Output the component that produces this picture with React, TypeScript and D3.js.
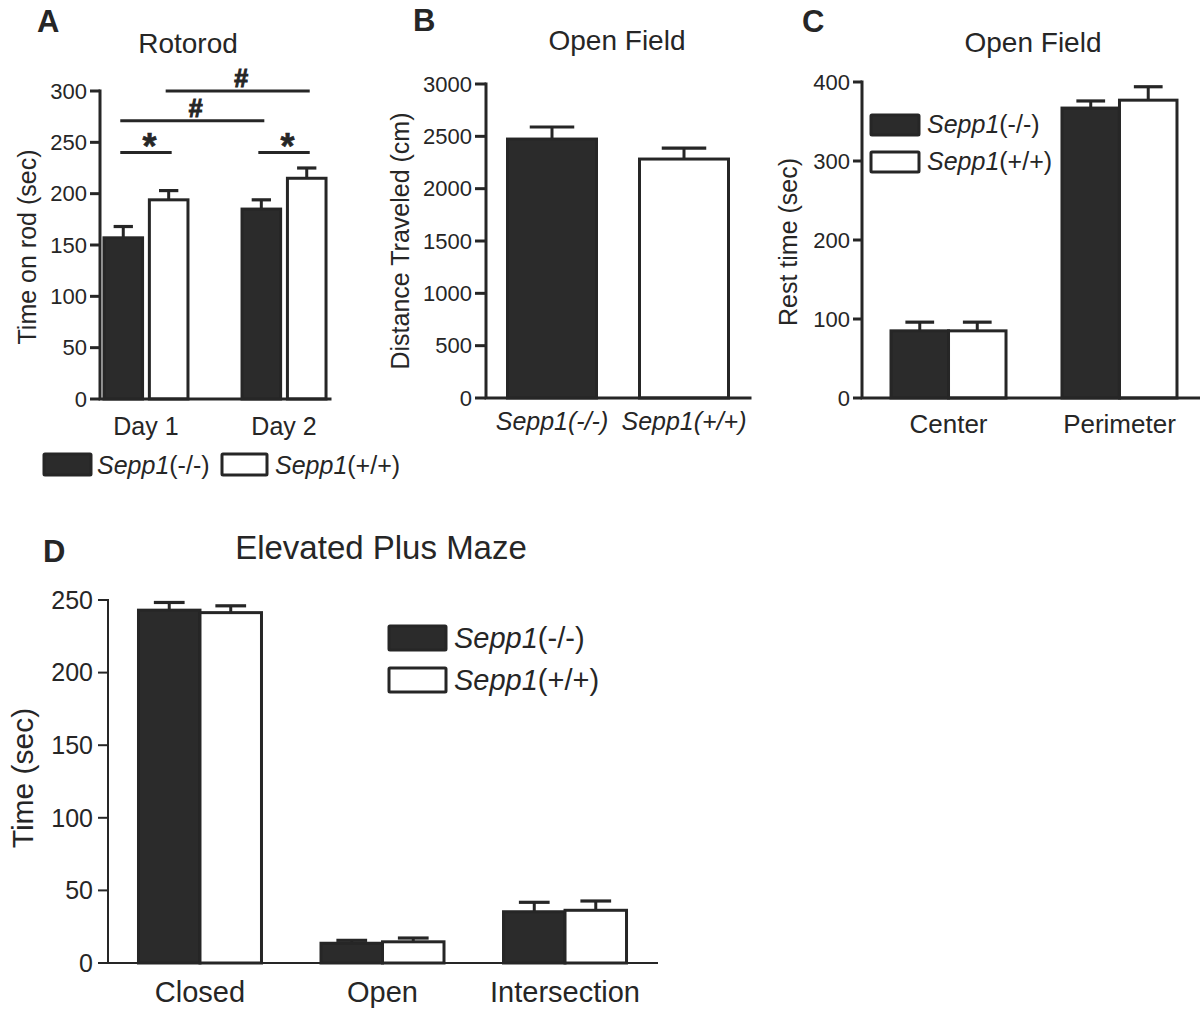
import * as d3 from 'd3'

const FONT = '"Liberation Sans", Arial, Helvetica, sans-serif'
const INK = '#262626'
const DARK = '#2b2b2b'
const WHITE = '#ffffff'

// legend / series names
const genoName = 'Sepp1'
const genoSuffix = ['(-/-)', '(+/+)']

// A: rotorod
const rotorodDays = ['Day 1', 'Day 2']
const rotorodKoMean = [157, 185]
const rotorodKoSem = [11, 9]
const rotorodWtMean = [194, 215]
const rotorodWtSem = [9, 10]
const rotorodTicks = [0, 50, 100, 150, 200, 250, 300]
// significance brackets: [day, series] -> [day, series] at value
const rotorodMarks = [
  { from: [0, 0], to: [0, 1], at: 240, label: '*' },
  { from: [0, 0], to: [1, 0], at: 271, label: '#' },
  { from: [0, 1], to: [1, 1], at: 300, label: '#' },
  { from: [1, 0], to: [1, 1], at: 240, label: '*' },
]

// B: open field distance
const distanceGroups = ['Sepp1(-/-)', 'Sepp1(+/+)']
const distanceMean = [2474, 2283]
const distanceSem = [115, 105]
const distanceTicks = [0, 500, 1000, 1500, 2000, 2500, 3000]

// C: open field rest time
const restZones = ['Center', 'Perimeter']
const restKoMean = [85, 367]
const restKoSem = [11, 9]
const restWtMean = [85, 377]
const restWtSem = [11, 17]
const restTicks = [0, 100, 200, 300, 400]

// D: elevated plus maze
const mazeArms = ['Closed', 'Open', 'Intersection']
const mazeKoMean = [243, 13.6, 35.3]
const mazeKoSem = [5.3, 2, 6.5]
const mazeWtMean = [241.3, 14.6, 36.3]
const mazeWtSem = [4.7, 2.6, 6.4]
const mazeTicks = [0, 50, 100, 150, 200, 250]

type Series = { mean: number[]; sem: number[]; fill: (gi: number) => string }

type PanelProps = {
  groups: string[]
  series: Series[]
  x0: number
  x1: number
  pad: number
  groupWidth: number
  innerPad: number
  yMax: number
  yTop: number
  yBottom: number
  ticks: number[]
  tickLen: number
  tickFont: number
  tickGap: number
  axisWidth: number
  labelFont: number
  labelDrop: number
  italicLabels?: boolean
  clipRight?: number
  children?: (x: d3.ScalePoint<string>, inner: d3.ScaleBand<number>, y: d3.ScaleLinear<number, number>) => any
}

const BarPanel = (p: PanelProps) => {
  const x = d3.scalePoint<string>().domain(p.groups).range([p.x0, p.x1]).padding(p.pad)
  const inner = d3
    .scaleBand<number>()
    .domain(d3.range(p.series.length))
    .range([-p.groupWidth / 2, p.groupWidth / 2])
    .paddingInner(p.innerPad)
  const y = d3.scaleLinear().domain([0, p.yMax]).range([p.yBottom, p.yTop])
  const bw = inner.bandwidth()
  const right = p.clipRight ?? p.x1

  return (
    <g>
      {p.series.map((s, si) =>
        p.groups.map((g, gi) => {
          const left = (x(g) as number) + (inner(si) as number)
          const cx = left + bw / 2
          const top = y(s.mean[gi])
          const err = y(s.mean[gi] + s.sem[gi])
          return (
            <g key={`${si}-${gi}`}>
              <line x1={cx} x2={cx} y1={top} y2={err} stroke={INK} strokeWidth={3} />
              <line x1={cx - bw / 4} x2={cx + bw / 4} y1={err} y2={err} stroke={INK} strokeWidth={3.2} />
              <rect
                x={left}
                y={top}
                width={bw}
                height={y(0) - top}
                fill={s.fill(gi)}
                stroke={INK}
                strokeWidth={3}
              />
            </g>
          )
        })
      )}
      {/* axes */}
      <path
        d={`M${p.x0},${y(p.yMax)}V${y(0)}H${right}`}
        fill="none"
        stroke={INK}
        strokeWidth={p.axisWidth}
        strokeLinecap="square"
      />
      {p.ticks.map((t) => (
        <g key={t}>
          <line x1={p.x0 - p.tickLen} x2={p.x0} y1={y(t)} y2={y(t)} stroke={INK} strokeWidth={p.axisWidth} />
          <text
            x={p.x0 - p.tickLen - p.tickGap}
            y={y(t)}
            dy="0.35em"
            textAnchor="end"
            fontSize={p.tickFont}
            fill={INK}
          >
            {t}
          </text>
        </g>
      ))}
      {p.groups.map((g) => (
        <text
          key={g}
          x={x(g)}
          y={y(0) + p.labelDrop}
          textAnchor="middle"
          fontSize={p.labelFont}
          fontStyle={p.italicLabels ? 'italic' : 'normal'}
          fill={INK}
        >
          {g}
        </text>
      ))}
      {p.children && p.children(x, inner, y)}
    </g>
  )
}

const Title = ({ x, y, size, text }: { x: number; y: number; size: number; text: string }) => (
  <text x={x} y={y} textAnchor="middle" fontSize={size} fill={INK}>
    {text}
  </text>
)

const Letter = ({ x, y, text }: { x: number; y: number; text: string }) => (
  <text x={x} y={y} fontSize={31} fontWeight="bold" fill={INK}>
    {text}
  </text>
)

const YTitle = ({ x, y, size, text }: { x: number; y: number; size: number; text: string }) => (
  <text transform={`translate(${x},${y}) rotate(-90)`} textAnchor="middle" fontSize={size} fill={INK}>
    {text}
  </text>
)

const LegendItem = ({ x, y, w, h, tx, ty, size, fill, suffix }: any) => (
  <g>
    <rect x={x} y={y} width={w} height={h} fill={fill} stroke={INK} strokeWidth={3} rx={1} />
    <text x={tx} y={ty} fontSize={size} fill={INK}>
      <tspan fontStyle="italic">{genoName}</tspan>
      {suffix}
    </text>
  </g>
)

const ko = (m: number[], s: number[]): Series => ({ mean: m, sem: s, fill: () => DARK })
const wt = (m: number[], s: number[]): Series => ({ mean: m, sem: s, fill: () => WHITE })

export default function App() {
  return (
    <svg
      width={1200}
      height={1013}
      style={{ position: 'absolute', left: 0, top: 0, background: '#fff' }}
      fontFamily={FONT}
    >
      <rect width={1200} height={1013} fill="#fff" />

      {/* A */}
      <Letter x={37} y={32} text="A" />
      <Title x={188} y={53} size={28} text="Rotorod" />
      <YTitle x={36} y={247} size={25} text="Time on rod (sec)" />
      <BarPanel
        groups={rotorodDays}
        series={[ko(rotorodKoMean, rotorodKoSem), wt(rotorodWtMean, rotorodWtSem)]}
        x0={100}
        x1={330}
        pad={0.333}
        groupWidth={84}
        innerPad={0.15}
        yMax={300}
        yTop={91}
        yBottom={399}
        ticks={rotorodTicks}
        tickLen={10}
        tickFont={22}
        tickGap={3}
        axisWidth={3}
        labelFont={25}
        labelDrop={36}
      >
        {(x, inner, y) =>
          rotorodMarks.map((m, i) => {
            const bw = inner.bandwidth()
            const cx = (d: number[]) => (x(rotorodDays[d[0]]) as number) + (inner(d[1]) as number) + bw / 2
            const a = cx(m.from) - 3
            const b = cx(m.to) + 3
            const yy = y(m.at)
            const star = m.label === '*'
            return (
              <g key={i}>
                <line x1={a} x2={b} y1={yy} y2={yy} stroke={INK} strokeWidth={3} />
                <text
                  x={(a + b) / 2 + 3.5}
                  y={star ? yy + 6 : yy - 4}
                  textAnchor="middle"
                  fontSize={star ? 36 : 25}
                  fontWeight="bold"
                  fill={INK}
                  stroke={INK}
                  strokeWidth={star ? 0.6 : 1}
                >
                  {m.label}
                </text>
              </g>
            )
          })
        }
      </BarPanel>
      <LegendItem x={44} y={454} w={47} h={21} tx={97} ty={474} size={25} fill={DARK} suffix={genoSuffix[0]} />
      <LegendItem x={222} y={454} w={45} h={21} tx={275} ty={474} size={25} fill={WHITE} suffix={genoSuffix[1]} />

      {/* B */}
      <Letter x={413} y={31} text="B" />
      <Title x={617} y={50} size={28} text="Open Field" />
      <YTitle x={409} y={241} size={25} text="Distance Traveled (cm)" />
      <BarPanel
        groups={distanceGroups}
        series={[{ mean: distanceMean, sem: distanceSem, fill: (gi) => (gi === 0 ? DARK : WHITE) }]}
        x0={486}
        x1={750}
        pad={0.5}
        groupWidth={89}
        innerPad={0}
        yMax={3000}
        yTop={84}
        yBottom={398}
        ticks={distanceTicks}
        tickLen={11}
        tickFont={22}
        tickGap={3}
        axisWidth={3}
        labelFont={25}
        labelDrop={32}
        italicLabels
      />

      {/* C */}
      <Letter x={802} y={32} text="C" />
      <Title x={1033} y={52} size={28} text="Open Field" />
      <YTitle x={797} y={242} size={25} text="Rest time (sec)" />
      <BarPanel
        groups={restZones}
        series={[ko(restKoMean, restKoSem), wt(restWtMean, restWtSem)]}
        x0={862}
        x1={1206}
        pad={0.506}
        groupWidth={115}
        innerPad={0}
        yMax={400}
        yTop={82}
        yBottom={398}
        ticks={restTicks}
        tickLen={9}
        tickFont={22}
        tickGap={3}
        axisWidth={3}
        labelFont={26}
        labelDrop={35}
        clipRight={1200}
      />
      <LegendItem x={871} y={115} w={48} h={20} tx={927} ty={133} size={25} fill={DARK} suffix={genoSuffix[0]} />
      <LegendItem x={871} y={152} w={48} h={20} tx={927} ty={170} size={25} fill={WHITE} suffix={genoSuffix[1]} />

      {/* D */}
      <Letter x={43} y={562} text="D" />
      <Title x={381} y={559} size={33} text="Elevated Plus Maze" />
      <YTitle x={33} y={778} size={30} text="Time (sec)" />
      <BarPanel
        groups={mazeArms}
        series={[ko(mazeKoMean, mazeKoSem), wt(mazeWtMean, mazeWtSem)]}
        x0={108}
        x1={657}
        pad={0.504}
        groupWidth={123}
        innerPad={0}
        yMax={250}
        yTop={600}
        yBottom={963}
        ticks={mazeTicks}
        tickLen={10}
        tickFont={25}
        tickGap={5}
        axisWidth={2}
        labelFont={29}
        labelDrop={39}
      />
      <LegendItem x={389} y={626} w={57} h={24} tx={454} ty={648} size={29} fill={DARK} suffix={genoSuffix[0]} />
      <LegendItem x={389} y={668} w={57} h={24} tx={454} ty={690} size={29} fill={WHITE} suffix={genoSuffix[1]} />
    </svg>
  )
}
